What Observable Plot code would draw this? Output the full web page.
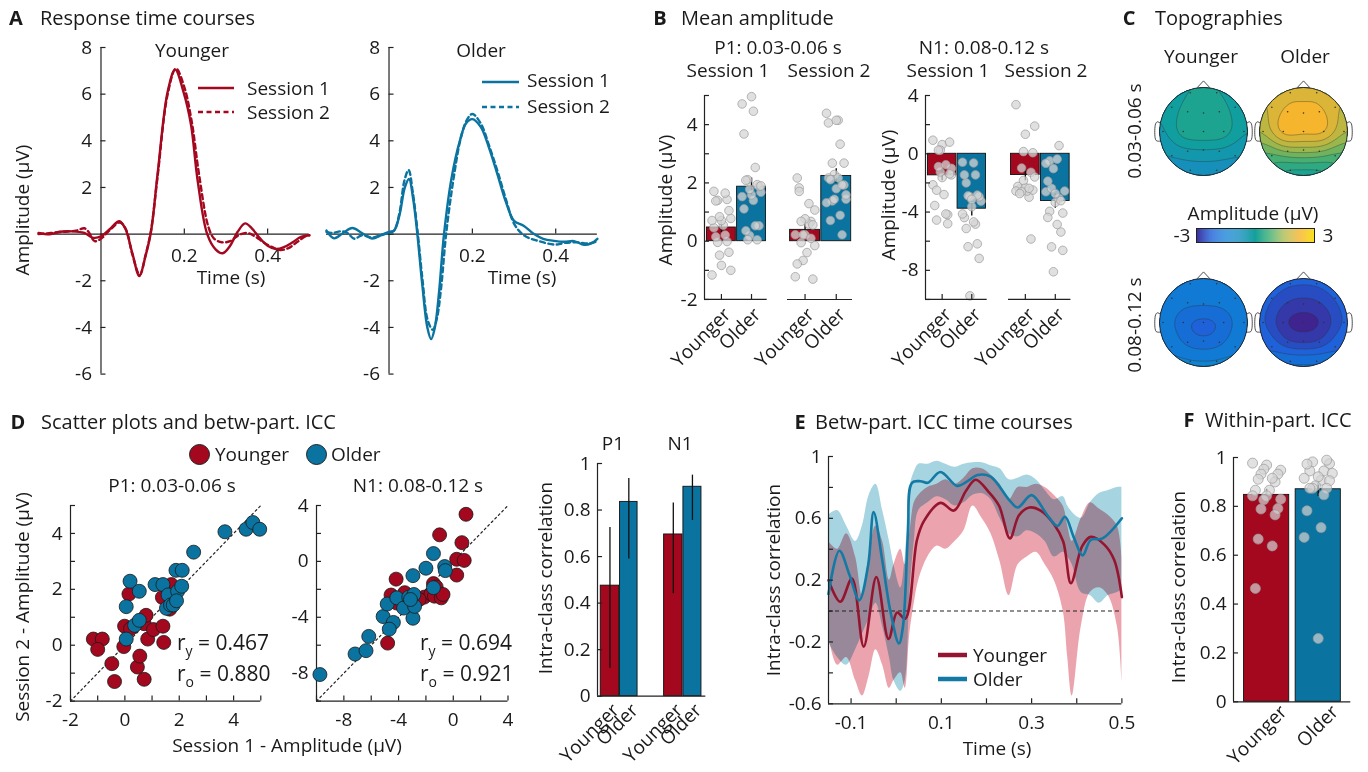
<!DOCTYPE html>
<html><head><meta charset="utf-8">
<script src="https://cdn.jsdelivr.net/npm/d3@7"></script>
<script src="https://cdn.jsdelivr.net/npm/@observablehq/plot@0.6"></script>
<style>
html,body{margin:0;padding:0;background:#fff;}
#root{position:relative;width:1368px;height:772px;overflow:hidden;background:#fff;font-family:"Open Sans",Lato,sans-serif;color:#1a1a1a;}
#root svg{position:absolute;max-width:none;}
.t{position:absolute;white-space:nowrap;line-height:1;}
</style></head><body><div id="root"></div>
<script>
// ---------------- DATA ----------------
// Panel A: response time courses (time in s, amplitude in µV)
const tYoungS1 = [-0.15,-0.12,-0.1,-0.07,-0.04,-0.02,0,0.02,0.044,0.058,0.075,0.092,0.106,0.12,0.136,0.16,0.178,0.198,0.216,0.232,0.255,0.275,0.292,0.31,0.328,0.346,0.362,0.38,0.4,0.42,0.44,0.46,0.48,0.5];
const vYoungS1 = [0.05,0.0,0.1,0.12,0.05,-0.15,-0.1,0.2,0.55,0.25,-0.8,-1.8,-1.0,0.1,2.6,6.1,7.05,6.1,4.7,2.3,0.0,-0.65,-0.82,-0.5,0.1,0.46,0.25,-0.15,-0.5,-0.64,-0.55,-0.35,-0.12,-0.05];
const tYoungS2 = [-0.15,-0.12,-0.09,-0.06,-0.04,-0.03,-0.015,0,0.02,0.045,0.06,0.075,0.093,0.107,0.12,0.136,0.16,0.18,0.2,0.218,0.235,0.258,0.272,0.29,0.31,0.33,0.35,0.37,0.39,0.41,0.43,0.45,0.47,0.49,0.5];
const vYoungS2 = [0.0,0.05,0.1,0.15,0.25,0.1,-0.3,-0.2,0.15,0.5,0.2,-0.85,-1.75,-0.9,0.15,2.5,6.0,7.1,6.3,4.8,2.6,0.3,-0.2,-0.35,-0.3,-0.05,0.05,-0.1,-0.35,-0.55,-0.68,-0.6,-0.35,-0.1,-0.05];
const tOldS1 = [-0.15,-0.132,-0.11,-0.088,-0.065,-0.04,-0.02,0,0.012,0.025,0.038,0.048,0.058,0.068,0.08,0.092,0.101,0.11,0.12,0.132,0.15,0.17,0.185,0.2,0.22,0.24,0.26,0.28,0.3,0.323,0.348,0.37,0.396,0.42,0.444,0.468,0.485,0.5];
const vOldS1 = [0.15,-0.18,0.05,0.26,0.05,-0.19,-0.05,0.1,0.15,0.8,2.0,2.36,1.5,0.0,-2.2,-4.0,-4.5,-4.0,-2.5,0.0,2.4,4.0,4.75,4.93,4.6,3.7,2.57,1.4,0.57,0.36,0.0,-0.2,-0.29,-0.33,-0.3,-0.46,-0.4,-0.2];
const tOldS2 = [-0.15,-0.135,-0.115,-0.1,-0.083,-0.065,-0.04,-0.02,0,0.012,0.025,0.037,0.047,0.057,0.068,0.08,0.093,0.105,0.115,0.125,0.137,0.155,0.172,0.187,0.2,0.22,0.24,0.262,0.282,0.3,0.32,0.34,0.36,0.38,0.4,0.42,0.45,0.48,0.5];
const vOldS2 = [0.1,0.05,0.12,0.05,-0.2,-0.05,-0.15,-0.05,0.05,0.15,0.9,2.3,2.75,1.8,0.2,-1.9,-3.7,-4.1,-3.6,-2.3,0.0,2.4,4.1,4.9,5.15,4.75,3.8,2.6,1.4,0.45,0.0,-0.2,-0.3,-0.4,-0.45,-0.38,-0.35,-0.4,-0.3];

// Participant amplitudes (µV): session 1 / session 2 (panels B and D)
const p1YoungS1 = [-1.16,-0.83,-1.0,-0.48,-0.38,-0.04,-0.01,0.15,0.21,0.46,0.55,0.71,0.71,0.78,0.84,1.05,1.4,1.43,1.38,1.65,1.71];
const p1YoungS2 = [0.22,0.22,-0.15,-0.66,-1.3,-0.05,0.68,1.83,0.59,-0.78,-0.39,-1.22,0.77,1.07,0.22,0.56,0.68,0.1,1.71,1.29,2.17];
const p1OldS1 = [0.19,0.53,0.05,0.05,0.36,0.53,1.11,1.4,1.53,1.59,1.68,1.78,1.88,2.11,1.94,2.09,2.53,3.68,4.46,4.71,4.96,1.9];
const p1OldS2 = [2.29,1.93,1.38,0.22,0.71,0.89,2.17,2.17,1.32,1.8,1.44,1.44,2.68,2.68,1.93,2.11,3.33,4.06,4.15,4.39,4.15,1.59];
const n1YoungS1 = [0.93,0.63,-1.0,0.25,0.8,0.25,-4.18,-4.55,-4.13,-3.55,-2.8,-2.13,-1.63,-1.45,-1.25,-1.38,-0.88,-4.8,-2.5,-0.75];
const n1YoungS2 = [3.37,1.34,1.9,0.15,0.07,-0.98,-1.27,-2.41,-2.98,-2.24,-2.56,-2.56,-2.32,-1.59,-1.83,-2.49,-2.61,-5.85,-2.73,-2.37];
const n1OldS1 = [-9.75,-7.18,-6.38,-6.18,-5.13,-4.83,-4.38,-4.68,-4.13,-3.63,-3.25,-2.95,-2.95,-2.88,-2.83,-2.0,-1.45,-1.45,-0.63,-0.58,-3.13];
const n1OldS2 = [-8.1,-6.63,-6.39,-5.37,-3.95,-3.05,-4.37,-4.85,-2.61,-3.34,-2.56,-1.02,-4.07,-2.37,-3.22,-0.49,0.56,-1.88,-0.37,-0.66,-2.73];

// Panel B: group means and standard errors [Younger, Older]
const p1MeanS1 = [0.47, 1.87], p1ErrS1 = [0.17, 0.3];
const p1MeanS2 = [0.39, 2.24], p1ErrS2 = [0.18, 0.25];
const n1MeanS1 = [-1.48, -3.77], n1ErrS1 = [0.38, 0.5];
const n1MeanS2 = [-1.46, -3.24], n1ErrS2 = [0.4, 0.5];
const groups = ["Younger", "Older"];

// Panel C: topographies (electrode layout + amplitudes, µV)
const elecX = [-0.3,0.3,-0.72,-0.36,0,0.36,0.72,-0.92,-0.46,0,0.46,0.92,-0.72,-0.36,0,0.36,0.72,-0.3,0.3];
const elecY = [0.88,0.88,0.55,0.45,0.42,0.45,0.55,0,0,0,0,0,-0.55,-0.45,-0.42,-0.45,-0.55,-0.88,-0.88];
const topoYoungP1 = [0.2,0.2,0.0,0.45,0.5,0.45,0.05,-0.2,0.5,0.55,0.5,-0.1,-0.45,-0.2,-0.15,-0.2,-0.45,-0.6,-0.6];
const topoOldP1 = [2.2,2.2,2.0,2.5,2.4,2.5,2.0,1.7,2.7,2.5,2.6,1.7,0.9,1.5,1.6,1.5,0.9,0.3,0.3];
const topoYoungN1 = [-1.3,-1.3,-1.3,-1.5,-1.5,-1.5,-1.3,-1.35,-1.9,-2.1,-1.9,-1.35,-1.3,-1.8,-1.9,-1.8,-1.3,-1.2,-1.2];
const topoOldN1 = [-2.1,-2.1,-2.1,-2.6,-2.7,-2.6,-2.1,-2.1,-2.9,-3.0,-2.9,-2.1,-1.9,-2.6,-2.7,-2.6,-1.9,-1.5,-1.5];
const PARULA = ["#3b2a98","#1f5fd8","#0e7ed4","#168fbc","#10a09a","#3fae74","#a8b848","#f5b32e","#f9e21a"];
const PARULA_DOMAIN = [-3,-2.25,-1.5,-0.75,0,0.75,1.5,2.25,3];

// Panel D: between-participant ICC [P1 Younger, P1 Older, N1 Younger, N1 Older]
const iccValue = [0.475, 0.835, 0.695, 0.9];
const iccLow = [0.12, 0.59, 0.44, 0.755];
const iccHigh = [0.725, 0.935, 0.83, 0.95];

// Panel E: ICC time courses
const tRedE = [-0.15,-0.124,-0.098,-0.072,-0.044,-0.017,0.002,0.02,0.046,0.061,0.098,0.128,0.155,0.176,0.205,0.228,0.252,0.272,0.295,0.32,0.35,0.37,0.387,0.412,0.431,0.461,0.483,0.5];
const vRedE = [0.2,0.06,0.21,-0.23,0.22,-0.18,-0.01,-0.05,0.46,0.58,0.7,0.65,0.78,0.85,0.77,0.68,0.47,0.62,0.67,0.65,0.56,0.45,0.18,0.42,0.48,0.43,0.33,0.09];
const tBlueE = [-0.15,-0.126,-0.103,-0.082,-0.062,-0.05,-0.031,-0.013,0.006,0.015,0.026,0.035,0.054,0.07,0.098,0.135,0.158,0.18,0.209,0.25,0.269,0.3,0.335,0.357,0.374,0.393,0.413,0.431,0.457,0.5];
const vBlueE = [0.11,0.39,0.23,0.07,0.3,0.64,0.33,0.0,-0.21,-0.1,0.5,0.83,0.84,0.83,0.9,0.81,0.84,0.88,0.87,0.72,0.67,0.75,0.62,0.55,0.61,0.48,0.36,0.46,0.47,0.6];
const tBand = [-0.15,-0.13,-0.11,-0.09,-0.075,-0.06,-0.045,-0.03,-0.015,-0.005,0.01,0.02,0.03,0.04,0.05,0.07,0.09,0.11,0.13,0.15,0.17,0.19,0.21,0.23,0.25,0.27,0.29,0.31,0.33,0.35,0.37,0.38,0.39,0.41,0.43,0.45,0.47,0.49,0.5];
const redHi = [0.45,0.4,0.5,0.35,0.1,0.35,0.55,0.45,0.2,0.3,0.4,0.3,0.5,0.7,0.75,0.8,0.82,0.85,0.82,0.86,0.92,0.92,0.88,0.82,0.72,0.8,0.8,0.82,0.8,0.75,0.68,0.55,0.45,0.6,0.7,0.66,0.62,0.55,0.35];
const redLo = [-0.15,-0.35,-0.3,-0.45,-0.55,-0.42,-0.25,-0.35,-0.5,-0.45,-0.4,-0.5,-0.15,0.05,0.2,0.35,0.42,0.4,0.45,0.52,0.68,0.6,0.5,0.32,0.1,0.3,0.35,0.38,0.3,0.2,0.0,-0.3,-0.55,-0.1,0.12,0.15,0.1,-0.1,-0.45];
const blueHi = [0.62,0.65,0.55,0.45,0.55,0.75,0.82,0.65,0.45,0.3,0.15,0.35,0.8,0.9,0.95,0.95,0.97,0.95,0.93,0.95,0.96,0.96,0.94,0.92,0.85,0.86,0.88,0.85,0.78,0.72,0.74,0.68,0.64,0.6,0.7,0.76,0.78,0.8,0.8];
const blueLo = [-0.2,-0.3,-0.35,-0.25,-0.15,-0.05,0.05,-0.1,-0.3,-0.45,-0.52,-0.45,0.1,0.45,0.65,0.7,0.74,0.72,0.68,0.7,0.75,0.76,0.72,0.6,0.5,0.48,0.52,0.5,0.45,0.35,0.38,0.35,0.3,0.12,0.1,0.05,0.1,0.12,0.14];

// Panel F: within-participant ICC
const fYoung = [0.977,0.969,0.948,0.952,0.932,0.932,0.9,0.911,0.915,0.866,0.866,0.843,0.843,0.829,0.827,0.791,0.789,0.765,0.666,0.638,0.464];
const fOld = [0.975,0.982,0.989,0.945,0.945,0.973,0.907,0.915,0.921,0.935,0.884,0.905,0.874,0.874,0.874,0.847,0.782,0.713,0.673,0.259];
const fMean = [0.847, 0.87], fErr = [0.023, 0.03];

// ---------------- HELPERS ----------------
const RED = "#a3081f", BLUE = "#0a73a0", INK = "#1a1a1a";
const FONT = '"Open Sans", Lato, sans-serif';
const root = document.getElementById("root");

function place(opts, x0, x1, y0, y1) {
  const m = 40;
  const p = Plot.plot({
    ...opts,
    width: (x1 - x0) + 2 * m, height: (y1 - y0) + 2 * m,
    marginLeft: m, marginRight: m, marginTop: m, marginBottom: m,
    x: {...opts.x, axis: null}, y: {...opts.y, axis: null}
  });
  p.style.background = "transparent"; p.style.overflow = "visible";
  p.style.fontFamily = FONT; p.style.fontSize = "19px"; p.style.color = INK;
  p.style.left = (x0 - m) + "px"; p.style.top = (y0 - m) + "px";
  root.appendChild(p);
  return p;
}
function T(html, x, y, {size = 19, anchor = "middle", weight = 400, rotate = 0} = {}) {
  const d = document.createElement("div"); d.className = "t"; d.innerHTML = html;
  const tx = anchor === "middle" ? "-50%" : anchor === "end" ? "-100%" : "0%";
  d.style.left = x + "px"; d.style.top = y + "px"; d.style.fontSize = size + "px"; d.style.fontWeight = weight;
  d.style.transform = `translate(${tx},-50%)` + (rotate ? ` rotate(${rotate}deg)` : "");
  root.appendChild(d);
}
function hline(x1, x2, y, color, w, dash) {
  const ns = "http://www.w3.org/2000/svg";
  const s = document.createElementNS(ns, "svg");
  s.setAttribute("width", x2 - x1); s.setAttribute("height", 10);
  s.style.left = x1 + "px"; s.style.top = (y - 5) + "px"; s.style.overflow = "visible";
  const l = document.createElementNS(ns, "line");
  l.setAttribute("x1", 0); l.setAttribute("x2", x2 - x1); l.setAttribute("y1", 5); l.setAttribute("y2", 5);
  l.setAttribute("stroke", color); l.setAttribute("stroke-width", w);
  if (dash) l.setAttribute("stroke-dasharray", dash);
  s.appendChild(l); root.appendChild(s);
}
function circ(cx, cy, r, color) {
  const d = document.createElement("div");
  d.style.cssText = `position:absolute;left:${cx - r}px;top:${cy - r}px;width:${2*r}px;height:${2*r}px;border-radius:50%;background:${color};box-sizing:border-box;border:1px solid #222;`;
  root.appendChild(d);
}
const AX = {stroke: "#222", strokeWidth: 1.2};
function yAxis(xAt, [ya, yb], ticks, labels, len, dx = -7) {
  return [
    Plot.ruleX([xAt], {x: d => d, y1: () => ya, y2: () => yb, ...AX}),
    Plot.ruleY(ticks, {y: d => d, x1: () => xAt, x2: () => xAt + len, ...AX}),
    Plot.text(labels, {x: () => xAt, y: d => d, text: d => String(d), textAnchor: "end", dx, fontSize: 19, fill: INK})
  ];
}
function xAxis(yAt, [xa, xb], ticks, labels, len, dy = 18) {
  return [
    Plot.ruleY([yAt], {y: d => d, x1: () => xa, x2: () => xb, ...AX}),
    Plot.ruleX(ticks, {x: d => d, y1: () => yAt, y2: () => yAt + len, ...AX}),
    Plot.text(labels, {x: d => d, y: () => yAt, text: d => String(d), dy, fontSize: 19, fill: INK})
  ];
}
const jit = i => (((i * 5) % 11) / 10 - 0.5) * 2;
const pairs = (a, b) => d3.zip(a, b);
const rotLabels = (centers, yAt, dx = 6, dy = 11) =>
  Plot.text(groups, {x: (d, i) => centers[i], y: () => yAt, text: d => d, rotate: -45, textAnchor: "end", dx, dy, fontSize: 19, fill: INK});

// ---------------- PANEL A ----------------
T("<b>A</b>", 16, 18, {size: 20});
T("Response time courses", 40, 18, {size: 20, anchor: "start"});
function panelA(t1, v1, t2, v2, color, x0, x1) {
  place({
    x: {domain: [-0.15, 0.5]}, y: {domain: [-6, 8]},
    marks: [
      Plot.ruleY([0], AX),
      ...yAxis(0, [-6, 8], [-6,-4,-2,0,2,4,6,8], [-6,-4,-2,2,4,6,8], 0.012, -9),
      Plot.ruleX([0.2, 0.4], {x: d => d, y1: () => 0, y2: () => 0.22, ...AX}),
      Plot.text([0.2, 0.4], {x: d => d, y: () => 0, text: d => String(d), dy: 22, fontSize: 19, fill: INK}),
      Plot.line(pairs(t2, v2), {x: d => d[0], y: d => d[1], stroke: color, strokeWidth: 2.4, strokeDasharray: "5,3.5", curve: "catmull-rom"}),
      Plot.line(pairs(t1, v1), {x: d => d[0], y: d => d[1], stroke: color, strokeWidth: 2.4, curve: "catmull-rom"})
    ]
  }, x0, x1, 46.7, 373.3);
}
panelA(tYoungS1, vYoungS1, tYoungS2, vYoungS2, RED, 37.5, 308.3);
panelA(tOldS1, vOldS1, tOldS2, vOldS2, BLUE, 325.8, 596.7);
T("Younger", 192, 50); T("Older", 481, 50);
T("Time (s)", 231, 277); T("Time (s)", 522, 277);
T("Amplitude (μV)", 22, 210, {rotate: -90});
hline(198, 234, 88, RED, 2.6); T("Session 1", 247, 88, {anchor: "start"});
hline(198, 234, 112, RED, 2.6, "5,3.5"); T("Session 2", 247, 112, {anchor: "start"});
hline(482, 519, 82, BLUE, 2.6); T("Session 1", 527, 80, {anchor: "start"});
hline(482, 519, 107, BLUE, 2.6, "5,3.5"); T("Session 2", 527, 106, {anchor: "start"});

// ---------------- PANEL B ----------------
T("<b>B</b>", 660, 18, {size: 20});
T("Mean amplitude", 681, 18, {size: 20, anchor: "start"});
const barPos = [[0.08, 1.0], [1.04, 1.96]], catC = [0.54, 1.5];
function panelB(x0, x1, ydom, yticks, ylabels, means, errs, dY, dO, showY) {
  const xu = 2 / (x1 - x0), yu = (ydom[1] - ydom[0]) / (299 - 95);
  const dots = dY.map((v, i) => ({x: catC[0] + jit(i) * 0.3, y: v}))
    .concat(dO.map((v, i) => ({x: catC[1] + jit(i + 3) * 0.3, y: v})));
  const marks = [
    Plot.rect([0], {x1: () => barPos[0][0], x2: () => barPos[0][1], y1: () => 0, y2: () => means[0], fill: RED, stroke: "#111", strokeWidth: 0.9}),
    Plot.rect([1], {x1: () => barPos[1][0], x2: () => barPos[1][1], y1: () => 0, y2: () => means[1], fill: BLUE, stroke: "#111", strokeWidth: 0.9}),
    Plot.ruleX([0, 1], {x: i => catC[i], y1: i => means[i] - errs[i], y2: i => means[i] + errs[i], stroke: "#111", strokeWidth: 1.4}),
    Plot.dot(dots, {x: "x", y: "y", r: 4.3, fill: "#d6d6d6", fillOpacity: 0.75, stroke: "#9a9a9a", strokeWidth: 0.7}),
    Plot.ruleY([ydom[0]], {y: d => d, x1: () => 0, x2: () => 2, ...AX}),
    Plot.ruleX(catC, {x: d => d, y1: () => ydom[0], y2: () => ydom[0] + 5 * yu, ...AX}),
    rotLabels(catC, ydom[0], 6, 12)
  ];
  if (showY) marks.push(...yAxis(0, ydom, yticks, ylabels, 5 * xu, -7));
  place({x: {domain: [0, 2]}, y: {domain: ydom}, marks}, x0, x1, 95, 299);
}
panelB(704, 766.7, [-2, 5], [-2,-1,0,1,2,3,4,5], [-2,0,2,4], p1MeanS1, p1ErrS1, p1YoungS1, p1OldS1, true);
panelB(786.7, 851.7, [-2, 5], [], [], p1MeanS2, p1ErrS2, p1YoungS2, p1OldS2, false);
panelB(925, 986.7, [-10, 4], [-10,-8,-6,-4,-2,0,2,4], [-8,-4,0,4], n1MeanS1, n1ErrS1, n1YoungS1, n1OldS1, true);
panelB(1008.3, 1070.7, [-10, 4], [], [], n1MeanS2, n1ErrS2, n1YoungS2, n1OldS2, false);
T("P1: 0.03-0.06 s", 778, 47); T("Session 1", 728, 70); T("Session 2", 829, 70);
T("N1: 0.08-0.12 s", 984, 47); T("Session 1", 948, 70); T("Session 2", 1046, 70);
T("Amplitude (μV)", 665, 200, {rotate: -90});
T("Amplitude (μV)", 888, 195, {rotate: -90});

// ---------------- PANEL C ----------------
T("<b>C</b>", 1129, 18, {size: 20});
T("Topographies", 1155, 18, {size: 20, anchor: "start"});
const colorScale = {type: "linear", domain: PARULA_DOMAIN, range: PARULA};
let clipId = 0;
function head(vals, cx, cy, R) {
  const pts = elecX.map((x, i) => ({x, y: elecY[i], v: vals[i]}));
  const p = place({
    x: {domain: [-1, 1]}, y: {domain: [-1, 1]}, color: colorScale,
    marks: [
      Plot.contour(pts, {x: "x", y: "y", fill: "v", interpolate: "barycentric", blur: 3, thresholds: d3.range(-3.1, 3.2, 0.3), stroke: "#333", strokeWidth: 0.5, strokeOpacity: 0.75}),
      Plot.dot([0], {x: () => 0, y: () => 0, r: R, fill: "none", stroke: "#222", strokeWidth: 0.9}),
      Plot.line([[-0.15, 0.99], [0, 1.15], [0.15, 0.99]], {x: d => d[0], y: d => d[1], stroke: "#222", strokeWidth: 0.8}),
      Plot.line([[-0.995, 0.2], [-1.05, 0.22], [-1.09, 0.17], [-1.1, -0.14], [-1.07, -0.21], [-0.995, -0.22]], {x: d => d[0], y: d => d[1], stroke: "#222", strokeWidth: 0.8, curve: "catmull-rom"}),
      Plot.line([[0.995, 0.2], [1.05, 0.22], [1.09, 0.17], [1.1, -0.14], [1.07, -0.21], [0.995, -0.22]], {x: d => d[0], y: d => d[1], stroke: "#222", strokeWidth: 0.8, curve: "catmull-rom"}),
      Plot.dot(pts, {x: "x", y: "y", r: 0.8, fill: "#333"})
    ]
  }, cx - R, cx + R, cy - R, cy + R);
  const xs = p.scale("x"), ys = p.scale("y");
  const id = "hc" + (clipId++);
  const svg = d3.select(p);
  svg.insert("defs", ":first-child").append("clipPath").attr("id", id)
    .append("circle").attr("cx", xs.apply(0)).attr("cy", ys.apply(0)).attr("r", xs.apply(1) - xs.apply(0));
  svg.select('g[aria-label="contour"]').attr("clip-path", `url(#${id})`);
}
head(topoYoungP1, 1203, 131, 44);
head(topoOldP1, 1303, 131, 44);
head(topoYoungN1, 1203, 322, 44);
head(topoOldN1, 1303, 322, 44);
T("Younger", 1201, 56); T("Older", 1305, 56);
T("0.03-0.06 s", 1134, 131, {rotate: -90});
T("0.08-0.12 s", 1134, 325, {rotate: -90});
T("Amplitude (μV)", 1253, 213);
T("-3", 1182, 235); T("3", 1328, 235);
place({
  x: {domain: [-3, 3]}, y: {domain: [0, 1]}, color: colorScale,
  marks: [
    Plot.rect(d3.range(-3, 3, 0.05), {x1: d => d, x2: d => d + 0.05, y1: () => 0, y2: () => 1, fill: d => d + 0.025}),
    Plot.frame({stroke: "#222", strokeWidth: 1})
  ]
}, 1196, 1314, 228, 242);

// ---------------- PANEL D ----------------
T("<b>D</b>", 18, 422, {size: 20});
T("Scatter plots and betw-part. ICC", 41, 422, {size: 20, anchor: "start"});
circ(199, 454, 10.5, RED); T("Younger", 215, 454, {anchor: "start"});
circ(316, 454, 10.5, BLUE); T("Older", 331, 454, {anchor: "start"});
function scatter(dom, ticks, labels, yS1, yS2, oS1, oS2, x0, x1) {
  const len = 5 * (dom[1] - dom[0]) / (x1 - x0);
  place({
    x: {domain: dom}, y: {domain: dom},
    marks: [
      Plot.line(dom.map(v => [v, v]), {x: d => d[0], y: d => d[1], stroke: "#222", strokeWidth: 1.2, strokeDasharray: "2,3"}),
      ...yAxis(dom[0], dom, ticks, labels, len, -8),
      ...xAxis(dom[0], dom, ticks, labels, len, 19),
      Plot.dot(pairs(yS1, yS2), {x: d => d[0], y: d => d[1], r: 7, fill: RED, stroke: "#1a1a1a", strokeWidth: 0.8}),
      Plot.dot(pairs(oS1, oS2), {x: d => d[0], y: d => d[1], r: 7, fill: BLUE, stroke: "#1a1a1a", strokeWidth: 0.8})
    ]
  }, x0, x1, 505.4, 701);
}
scatter([-2, 5], [-2,-1,0,1,2,3,4,5], [-2,0,2,4], p1YoungS1, p1YoungS2, p1OldS1, p1OldS2, 69.7, 260);
scatter([-10, 4], [-10,-8,-6,-4,-2,0,2,4], [-8,-4,0,4], n1YoungS1, n1YoungS2, n1OldS1, n1OldS2, 316.3, 507.8);
T("P1: 0.03-0.06 s", 172, 485); T("N1: 0.08-0.12 s", 418, 485);
const sub = s => `<span style="font-size:21px">r</span><sub style="font-size:14px;vertical-align:-6px">${s}</sub>`;
T(sub("y") + " = 0.467", 177, 645, {anchor: "start", size: 21});
T(sub("o") + " = 0.880", 177, 676, {anchor: "start", size: 21});
T(sub("y") + " = 0.694", 420, 645, {anchor: "start", size: 21});
T(sub("o") + " = 0.921", 420, 676, {anchor: "start", size: 21});
T("Session 2 - Amplitude (μV)", 22, 607, {rotate: -90});
T("Session 1 - Amplitude (μV)", 287, 745);

// ICC bars
const iccBars = [[0.18, 1.2], [1.25, 2.22], [3.69, 4.71], [4.76, 5.76]];
const iccC = iccBars.map(b => (b[0] + b[1]) / 2);
place({
  x: {domain: [0, 6]}, y: {domain: [0, 1]},
  marks: [
    ...[0, 1, 2, 3].map(i => Plot.rect([i], {x1: () => iccBars[i][0], x2: () => iccBars[i][1], y1: () => 0, y2: () => iccValue[i], fill: i % 2 ? BLUE : RED, stroke: "#111", strokeWidth: 0.9})),
    Plot.ruleX([0, 1, 2, 3], {x: i => iccC[i], y1: i => iccLow[i], y2: i => iccHigh[i], stroke: "#111", strokeWidth: 1.3}),
    ...yAxis(0, [0, 1], [0, 0.2, 0.4, 0.6, 0.8, 1], [0, 0.2, 0.4, 0.6, 0.8, 1], 0.28, -7),
    Plot.ruleY([0], {y: d => d, x1: () => 0, x2: () => 6, ...AX}),
    Plot.text(["Younger", "Older", "Younger", "Older"], {x: (d, i) => iccC[i], y: () => 0, text: d => d, rotate: -45, textAnchor: "end", dx: 6, dy: 11, fontSize: 19, fill: INK})
  ]
}, 596.7, 705, 463.3, 696);
T("P1", 613, 443); T("N1", 680, 443);
T("Intra-class correlation", 545, 578, {rotate: -90});

// ---------------- PANEL E ----------------
T("<b>E</b>", 800, 422, {size: 20});
T("Betw-part. ICC time courses", 815, 422, {size: 20, anchor: "start"});
place({
  x: {domain: [-0.15, 0.5]}, y: {domain: [-0.6, 1]},
  marks: [
    Plot.areaY(tBand, {x: d => d, y1: (d, i) => blueLo[i], y2: (d, i) => blueHi[i], fill: "#a6d4e0", curve: "catmull-rom", mixBlendMode: "multiply"}),
    Plot.areaY(tBand, {x: d => d, y1: (d, i) => redLo[i], y2: (d, i) => redHi[i], fill: "#eba4ae", curve: "catmull-rom", mixBlendMode: "multiply"}),
    Plot.ruleY([0], {y: d => d, stroke: "#222", strokeWidth: 1.1, strokeDasharray: "4,3"}),
    Plot.line(pairs(tRedE, vRedE), {x: d => d[0], y: d => d[1], stroke: "#951530", strokeWidth: 2.6, curve: "catmull-rom"}),
    Plot.line(pairs(tBlueE, vBlueE), {x: d => d[0], y: d => d[1], stroke: "#127aa4", strokeWidth: 2.6, curve: "catmull-rom"}),
    ...yAxis(-0.15, [-0.6, 1], [-0.6,-0.4,-0.2,0,0.2,0.4,0.6,0.8,1], [-0.6,-0.2,0.2,0.6,1], 0.011, -7),
    ...xAxis(-0.6, [-0.15, 0.5], [-0.1,0,0.1,0.2,0.3,0.4,0.5], [-0.1,0.1,0.3,0.5], 0.032, 19)
  ]
}, 828.3, 1121.7, 456, 703.3);
hline(938, 967, 655, "#951530", 4.5); T("Younger", 973, 655, {anchor: "start"});
hline(938, 967, 679, "#127aa4", 4.5); T("Older", 973, 679, {anchor: "start"});
T("Intra-class correlation", 773, 580, {rotate: -90});
T("Time (s)", 997, 748);

// ---------------- PANEL F ----------------
T("<b>F</b>", 1189, 420, {size: 20});
T("Within-part. ICC", 1205, 420, {size: 20, anchor: "start"});
const fBars = [[0.18, 0.95], [1.06, 1.83]], fC = [0.565, 1.445];
const fDots = fYoung.map((v, i) => ({x: fC[0] + jit(i) * 0.24, y: v}))
  .concat(fOld.map((v, i) => ({x: fC[1] + jit(i + 4) * 0.24, y: v})));
place({
  x: {domain: [0, 2]}, y: {domain: [0, 1]},
  marks: [
    Plot.rect([0], {x1: () => fBars[0][0], x2: () => fBars[0][1], y1: () => 0, y2: () => fMean[0], fill: RED, stroke: "#111", strokeWidth: 0.9}),
    Plot.rect([1], {x1: () => fBars[1][0], x2: () => fBars[1][1], y1: () => 0, y2: () => fMean[1], fill: BLUE, stroke: "#111", strokeWidth: 0.9}),
    Plot.ruleX([0, 1], {x: i => fC[i], y1: i => fMean[i] - fErr[i], y2: i => fMean[i] + fErr[i], stroke: "#111", strokeWidth: 1.4}),
    Plot.dot(fDots, {x: "x", y: "y", r: 5, fill: "#d4d4d4", fillOpacity: 0.7, stroke: "#999", strokeWidth: 0.7}),
    ...yAxis(0, [0, 1], [0, 0.2, 0.4, 0.6, 0.8, 1], [0, 0.2, 0.4, 0.6, 0.8, 1], 0.085, -7),
    Plot.ruleY([0], {y: d => d, x1: () => 0, x2: () => 2, ...AX}),
    rotLabels(fC, 0, 17, 7)
  ]
}, 1232.7, 1350, 456.7, 701);
T("Intra-class correlation", 1178, 587, {rotate: -90});
</script></body></html>
